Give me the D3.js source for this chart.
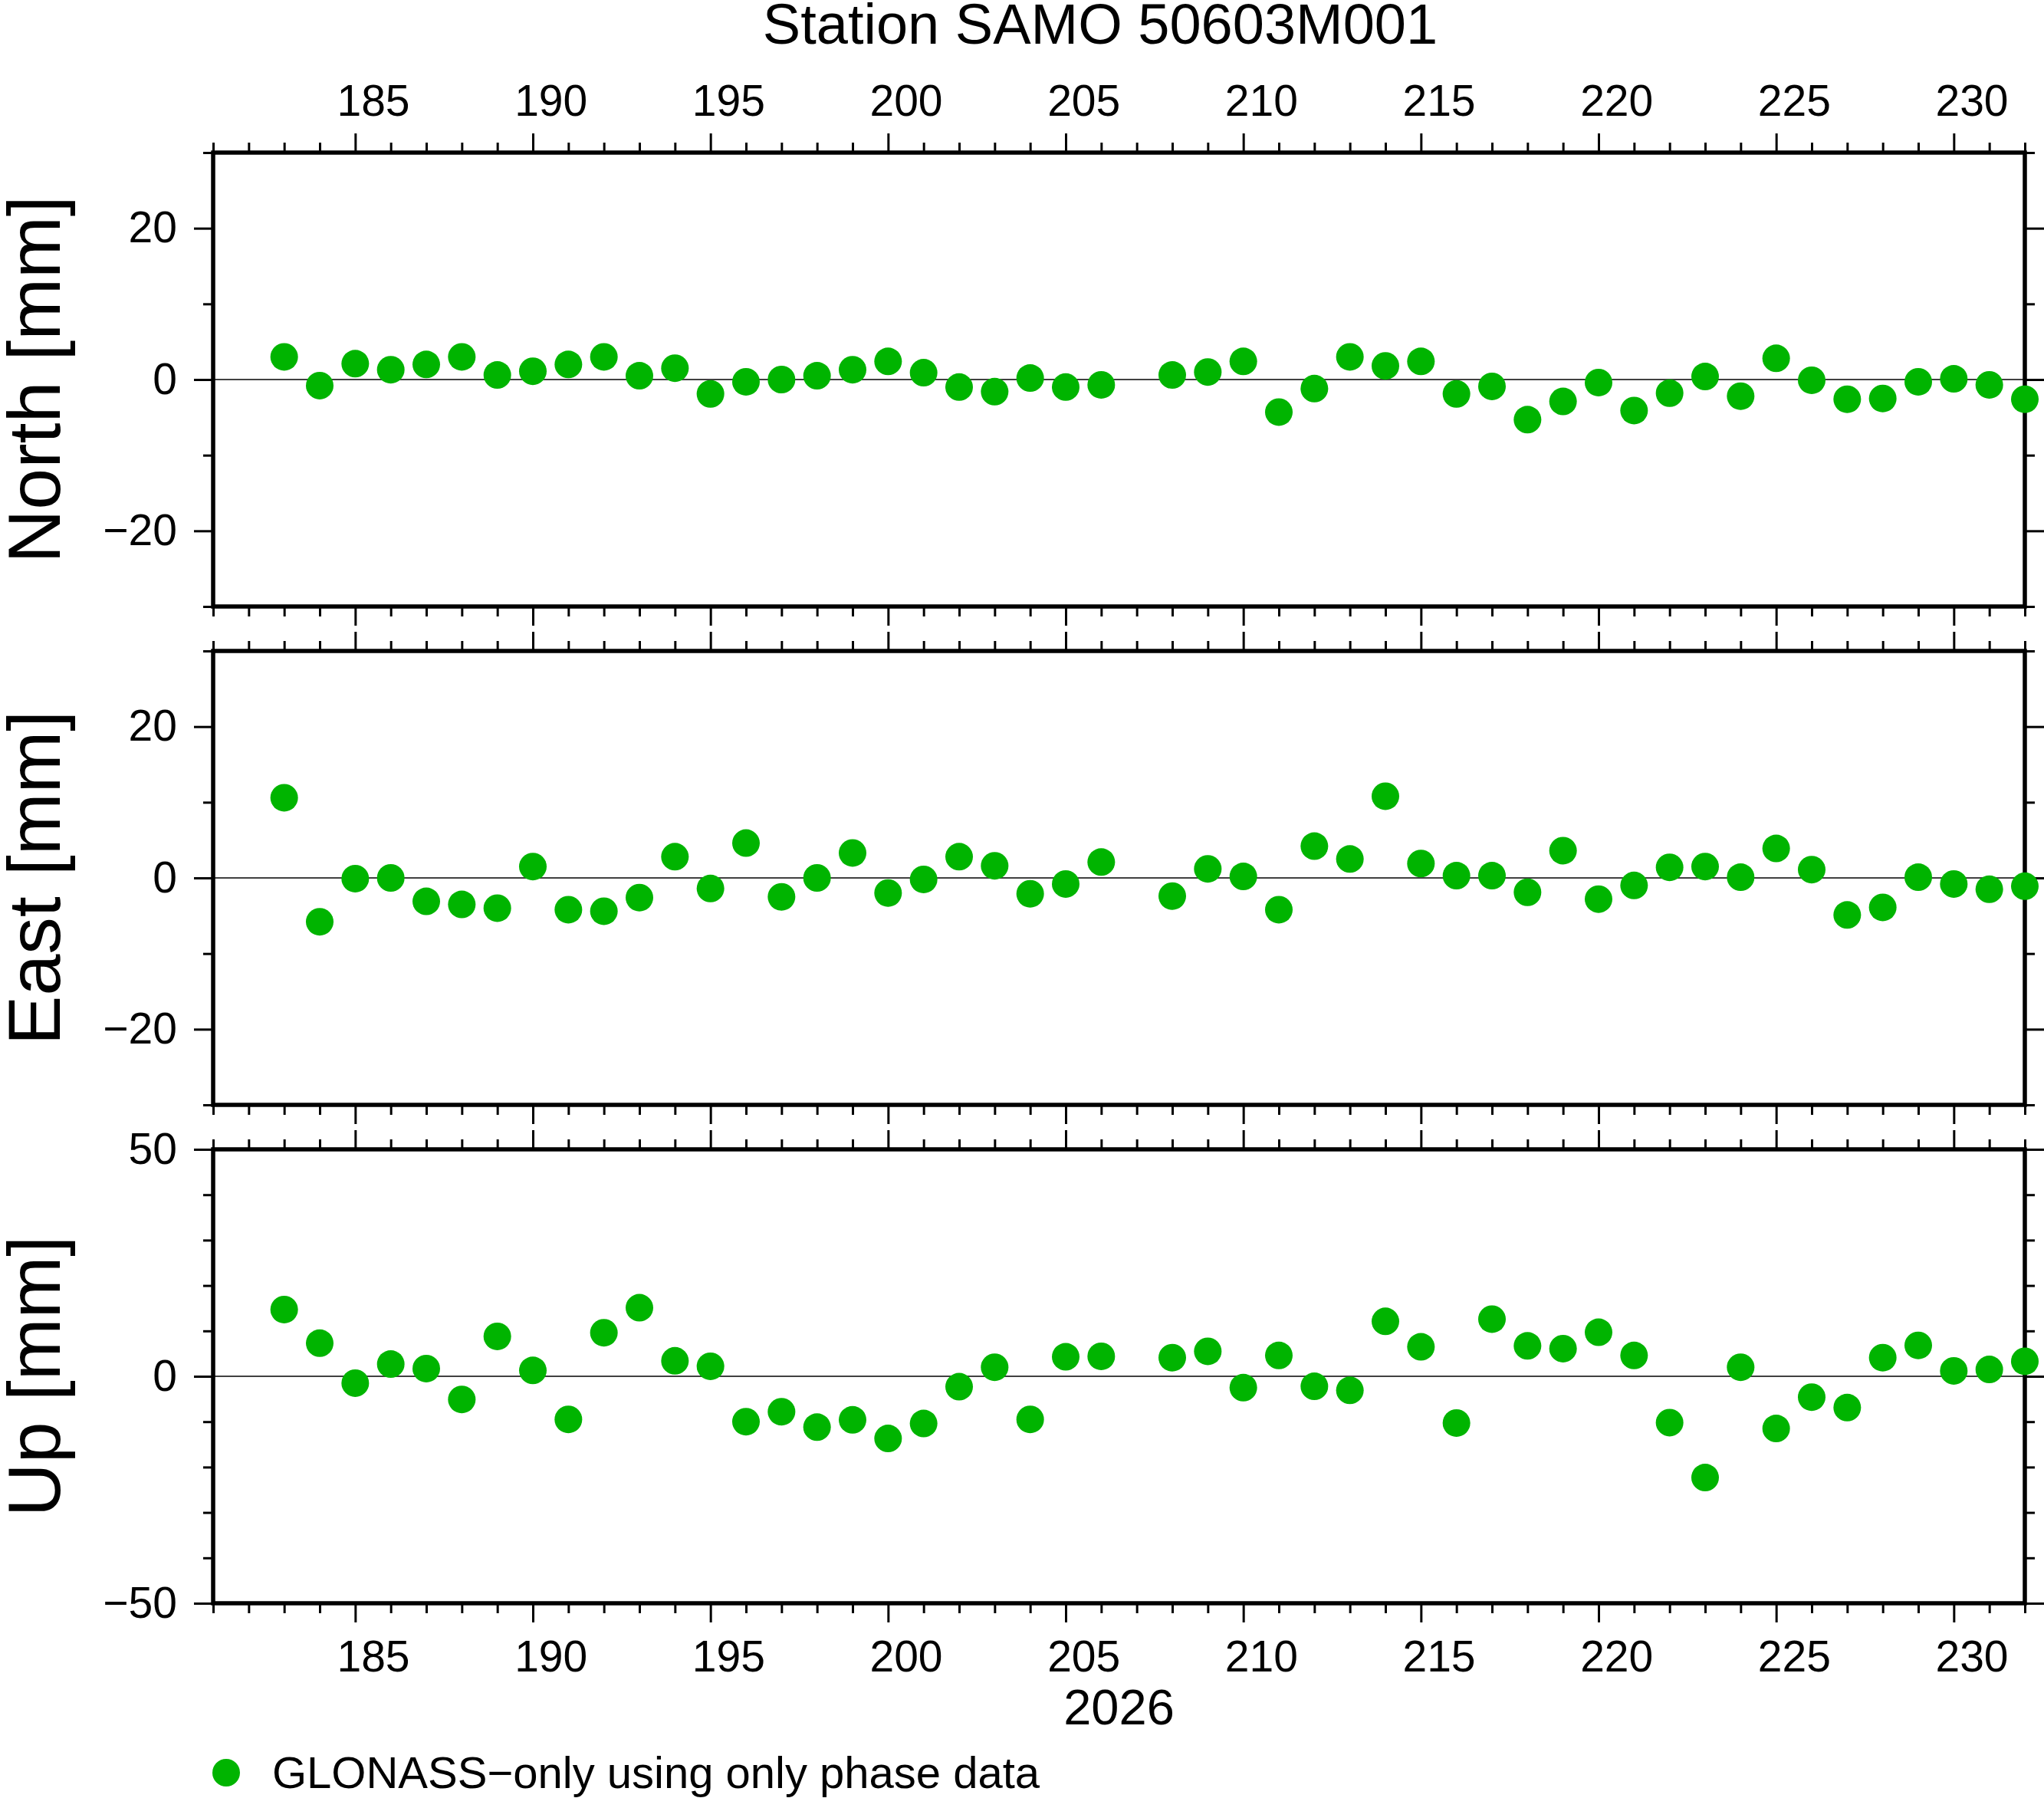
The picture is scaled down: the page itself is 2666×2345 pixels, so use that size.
<!DOCTYPE html>
<html>
<head>
<meta charset="utf-8">
<script src="https://cdn.jsdelivr.net/npm/d3@7"></script>
<style>
  body { margin: 0; background: #fff; }
  text { font-family: "Liberation Sans", Arial, Helvetica, sans-serif; }
</style>
</head>
<body>
<div id="chart"></div>
<script>
// Day of year (2026), day 207 is missing
var days = [183,184,185,186,187,188,189,190,191,192,193,194,195,196,197,198,199,200,201,202,203,204,205,206,
            208,209,210,211,212,213,214,215,216,217,218,219,220,221,222,223,224,225,226,227,228,229,230,231,232];

// residuals in mm
var north = [3.0,-0.8,2.1,1.3,2.0,3.0,0.6,1.1,2.0,3.0,0.5,1.5,-1.9,-0.3,0.0,0.5,1.3,2.4,0.9,-1.0,-1.6,0.2,-1.0,-0.7,
             0.6,1.0,2.4,-4.3,-1.2,3.0,1.8,2.4,-1.9,-0.9,-5.3,-2.9,-0.4,-4.1,-1.8,0.4,-2.2,2.8,-0.1,-2.6,-2.5,-0.3,0.1,-0.7,-2.6];
var east  = [10.6,-5.8,-0.1,0.0,-3.1,-3.5,-4.0,1.5,-4.2,-4.4,-2.6,2.8,-1.4,4.6,-2.5,0.0,3.3,-2.0,-0.2,2.8,1.6,-2.1,-0.8,2.1,
             -2.4,1.2,0.2,-4.2,4.2,2.5,10.8,1.9,0.3,0.3,-1.9,3.6,-2.8,-1.0,1.4,1.5,0.1,3.9,1.1,-4.9,-3.9,0.1,-0.8,-1.5,-1.1];
var up    = [14.7,7.3,-1.5,2.7,1.7,-5.1,8.8,1.3,-9.5,9.6,15.1,3.4,2.2,-10.0,-7.8,-11.2,-9.6,-13.7,-10.4,-2.3,2.0,-9.5,4.3,4.4,
             4.1,5.5,-2.5,4.6,-2.2,-3.1,12.1,6.5,-10.3,12.6,6.7,6.1,9.7,4.6,-10.2,-22.3,2.0,-11.5,-4.6,-6.9,4.1,6.8,1.2,1.5,3.3];

var xMajorTicks = [185,190,195,200,205,210,215,220,225,230];
var titleText = "Station SAMO 50603M001";
var yearLabel = "2026";
var legendText = "GLONASS\u2212only using only phase data";

var panelLabels = ["North [mm]", "East [mm]", "Up [mm]"];
var panelSeries = [north, east, up];
var panelRanges = [[-30, 30], [-30, 30], [-50, 50]];
var panelMajor  = [20, 20, 50];
var panelMinor  = [10, 10, 10];

var W = 2666, H = 2345;
var left = 278, right = 2641;
var top0 = 199, panelH = 592, gap = 58;
var green = "#00b400";
var fontStack = "'Liberation Sans', Arial, Helvetica, sans-serif";

var svg = d3.select("#chart").append("svg")
    .attr("width", W)
    .attr("height", H);

// shared x scale
var x = d3.scaleLinear().domain([181, 232]).range([left, right]);
var xMinorTicks = d3.range(181, 233).filter(function(d) { return d % 5 !== 0; });
// day labels sit in the middle of the day interval
var halfDay = x(181.5) - x(181);

function styleAxis(g, fs) {
  g.select(".domain").remove();
  g.selectAll(".tick line").attr("stroke", "#000").attr("stroke-width", 3);
  g.selectAll(".tick text")
    .attr("fill", "#000")
    .style("font-family", fontStack)
    .style("font-size", fs + "px");
}

panelSeries.forEach(function(series, i) {
  var top = top0 + i * (panelH + gap);
  var bottom = top + panelH;

  var y = d3.scaleLinear().domain(panelRanges[i]).range([bottom, top]);
  var yMaj = d3.range(panelRanges[i][0], panelRanges[i][1] + 0.001, 1)
      .filter(function(v) { return v % panelMajor[i] === 0; });
  var yMin = d3.range(panelRanges[i][0], panelRanges[i][1] + 0.001, panelMinor[i])
      .filter(function(v) { return v % panelMajor[i] !== 0; });

  var g = svg.append("g");

  // top axis
  var showTop = (i === 0);
  g.append("g").attr("transform", "translate(0," + top + ")")
    .call(d3.axisTop(x).tickValues(xMajorTicks).tickSize(25).tickPadding(23)
      .tickFormat(showTop ? d3.format("d") : function() { return ""; }))
    .call(styleAxis, 57)
    .selectAll(".tick text").attr("x", halfDay);
  g.append("g").attr("transform", "translate(0," + top + ")")
    .call(d3.axisTop(x).tickValues(xMinorTicks).tickSize(13).tickFormat(""))
    .call(styleAxis, 57);

  // bottom axis
  var showBottom = (i === panelSeries.length - 1);
  g.append("g").attr("transform", "translate(0," + bottom + ")")
    .call(d3.axisBottom(x).tickValues(xMajorTicks).tickSize(25).tickPadding(24)
      .tickFormat(showBottom ? d3.format("d") : function() { return ""; }))
    .call(styleAxis, 57)
    .selectAll(".tick text").attr("x", halfDay);
  g.append("g").attr("transform", "translate(0," + bottom + ")")
    .call(d3.axisBottom(x).tickValues(xMinorTicks).tickSize(13).tickFormat(""))
    .call(styleAxis, 57);

  // left axis
  g.append("g").attr("transform", "translate(" + left + ",0)")
    .call(d3.axisLeft(y).tickValues(yMaj).tickSize(25).tickPadding(22).tickFormat(d3.format("d")))
    .call(styleAxis, 57);
  g.append("g").attr("transform", "translate(" + left + ",0)")
    .call(d3.axisLeft(y).tickValues(yMin).tickSize(13).tickFormat(""))
    .call(styleAxis, 57);

  // right axis
  g.append("g").attr("transform", "translate(" + right + ",0)")
    .call(d3.axisRight(y).tickValues(yMaj).tickSize(25).tickFormat(""))
    .call(styleAxis, 57);
  g.append("g").attr("transform", "translate(" + right + ",0)")
    .call(d3.axisRight(y).tickValues(yMin).tickSize(13).tickFormat(""))
    .call(styleAxis, 57);

  // zero line
  g.append("line")
    .attr("x1", left).attr("x2", right)
    .attr("y1", y(0)).attr("y2", y(0))
    .attr("stroke", "#000")
    .attr("stroke-width", 1.3);

  // frame
  g.append("rect")
    .attr("x", left).attr("y", top)
    .attr("width", right - left).attr("height", panelH)
    .attr("fill", "none")
    .attr("stroke", "#000")
    .attr("stroke-width", 5.5);

  // points
  g.selectAll("circle.pt")
    .data(series)
    .enter()
    .append("circle")
    .attr("class", "pt")
    .attr("cx", function(d, j) { return x(days[j]); })
    .attr("cy", function(d) { return y(d); })
    .attr("r", 18)
    .attr("fill", green);

  // y label
  g.append("text")
    .attr("transform", "translate(78," + ((top + bottom) / 2) + ") rotate(-90)")
    .attr("text-anchor", "middle")
    .style("font-size", "97px")
    .text(panelLabels[i]);
});

// title
svg.append("text")
  .attr("x", 1435).attr("y", 57)
  .attr("text-anchor", "middle")
  .style("font-size", "74px")
  .text(titleText);

// year under the bottom axis
svg.append("text")
  .attr("x", (left + right) / 2).attr("y", 2249)
  .attr("text-anchor", "middle")
  .style("font-size", "65px")
  .text(yearLabel);

// legend
svg.append("circle")
  .attr("cx", 295).attr("cy", 2312)
  .attr("r", 18)
  .attr("fill", green);
svg.append("text")
  .attr("x", 355).attr("y", 2332)
  .style("font-size", "58px")
  .text(legendText);
</script>
</body>
</html>
